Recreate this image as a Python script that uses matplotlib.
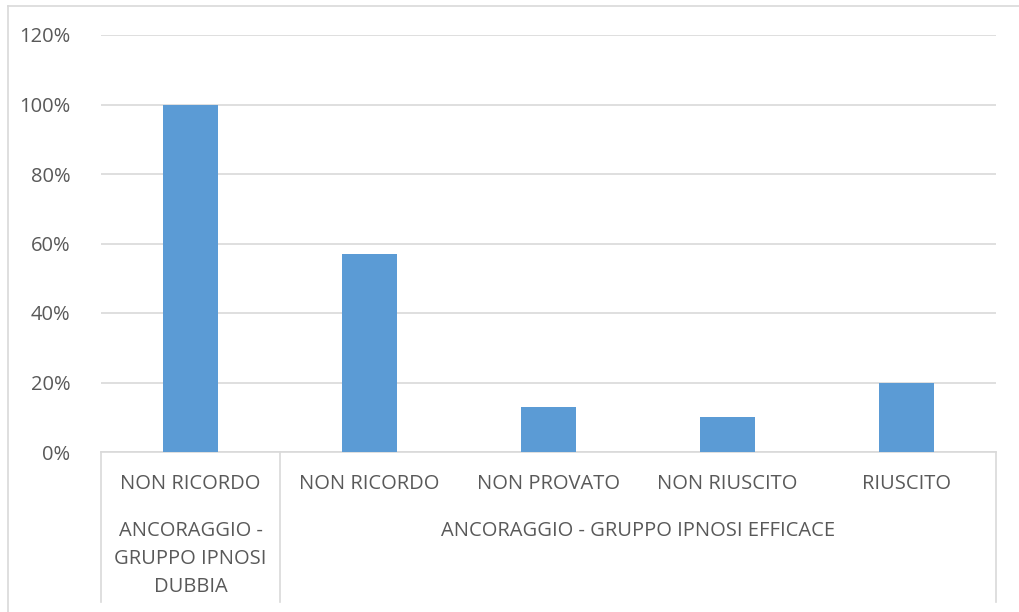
import matplotlib.pyplot as plt
from matplotlib.transforms import blended_transform_factory
from matplotlib.ticker import FuncFormatter

# Bar values (fraction of respondents)
categories = ["NON RICORDO", "NON RICORDO", "NON PROVATO", "NON RIUSCITO", "RIUSCITO"]
values = [1.00, 0.57, 0.13, 0.10, 0.20]
groups = ["ANCORAGGIO -\nGRUPPO IPNOSI\nDUBBIA", "ANCORAGGIO - GRUPPO IPNOSI EFFICACE"]
group_spans = [(0, 0), (1, 4)]  # first and last category index of each group
y_ticks = [0, 0.2, 0.4, 0.6, 0.8, 1.0, 1.2]

BAR_COLOR = "#5B9BD5"
GRID_COLOR = "#D9D9D9"
TEXT_COLOR = "#595959"
FONT_SIZE = 14.5
W, H = 1019, 612

plt.rcParams['font.family'] = ['Open Sans', 'DejaVu Sans']

fig = plt.figure(figsize=(W / 100, H / 100), dpi=100)
ax = fig.add_axes([101 / W, 1 - 452 / H, 895 / W, 417 / H])

x = list(range(len(values)))
ax.bar(x, values, width=0.31, color=BAR_COLOR, zorder=3)

ax.set_xlim(-0.5, len(values) - 0.5)
ax.set_ylim(0, 1.2)
ax.set_yticks(y_ticks)
ax.yaxis.set_major_formatter(FuncFormatter(lambda v, p: f"{v * 100:.0f}%"))
ax.tick_params(axis='y', length=0, pad=22, labelsize=FONT_SIZE, labelcolor=TEXT_COLOR)
ax.grid(axis='y', color=GRID_COLOR, linewidth=1.2, zorder=0)
ax.set_xticks([])
for side in ["top", "right", "left"]:
    ax.spines[side].set_visible(False)
ax.spines["bottom"].set_color(GRID_COLOR)
ax.spines["bottom"].set_linewidth(1.2)

# Two-level category axis drawn below the plot
trans = blended_transform_factory(ax.transData, ax.transAxes)
px = 1 / 417  # one pixel in axes height units
for i, lab in enumerate(categories):
    ax.text(i, -32 * px, lab, transform=trans, ha='center', va='center',
            fontsize=FONT_SIZE, color=TEXT_COLOR)

for (a, b), lab in zip(group_spans, groups):
    ax.text((a + b) / 2, -69 * px, lab, transform=trans, ha='center', va='top',
            fontsize=FONT_SIZE, color=TEXT_COLOR, linespacing=1.55)

bounds = [-0.5] + [b + 0.5 for _, b in group_spans]
for bx in bounds:
    ax.plot([bx, bx], [0, -150 * px], transform=trans, color=GRID_COLOR,
            linewidth=1.2, clip_on=False)

# Chart frame
fig.add_artist(plt.Line2D([8 / W, 8 / W], [0, 1 - 6 / H], transform=fig.transFigure,
                          color=GRID_COLOR, linewidth=1.2))
fig.add_artist(plt.Line2D([8 / W, 1], [1 - 6 / H, 1 - 6 / H], transform=fig.transFigure,
                          color=GRID_COLOR, linewidth=1.2))

fig.savefig("out.png", dpi=100, facecolor="white")
